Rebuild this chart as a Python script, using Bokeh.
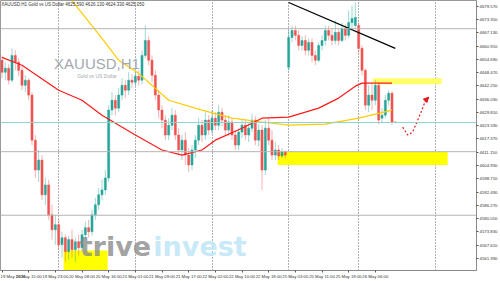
from bokeh.plotting import figure
from bokeh.models import (Range1d, FixedTicker, Label, Span, Arrow, NormalHead, ColumnDataSource)
from bokeh.embed import file_html
from bokeh.resources import INLINE

# ---------------- data ----------------
opens = [4654.2,4648.6,4650.5,4644.9,4656.5,4653.3,4649.5,4642.5,4644.9,4637.9,
         4616.8,4602.8,4607.5,4591.2,4595.8,4581.8,4574.8,4577.2,4567.8,4571.1,
         4564.6,4570.2,4565.5,4569.2,4566.4,4572.5,4575.8,4573.9,4581.8,4586.5,
         4591.2,4593.5,4599.1,4630.9,4635.5,4631.8,4637.9,4642.5,4640.2,4644.9,
         4643.9,4646.7,4644.9,4656.5,4663.5,4654.2,4647.2,4637.9,4630.9,4626.2,
         4619.2,4623.8,4628.5,4619.2,4612.2,4616.8,4609.8,4605.2,4612.2,4616.8,
         4623.8,4619.2,4626.2,4621.5,4627.1,4623.8,4629.9,4626.2,4621.5,4625.3,
         4619.2,4614.5,4620.6,4623.8,4619.2,4622.4,4626.2,4616.8,4621.5,4602.8,
         4622.4,4616.8,4609.8,4612.2,4609.4,4611.2,4650.9,4664.9,4668.2,4665.9,
         4661.2,4663.5,4658.9,4662.6,4656.5,4654.2,4661.2,4663.5,4668.2,4665.9,
         4663.5,4667.3,4663.5,4669.1,4665.9,4671.9,4670.5,4670.5,4659.8,4649.5,
         4633.2,4637.9,4635.5,4642.5,4627.1,4628.5,4635.5,4638.8,4625.3]
highs = [4656.5,4653.3,4652.3,4659.8,4658.9,4655.1,4651.4,4647.2,4645.8,4639.3,
         4619.2,4612.2,4609.8,4599.1,4598.2,4586.5,4581.8,4579.5,4573.9,4572.5,
         4572.0,4574.8,4571.1,4572.5,4574.8,4578.6,4579.5,4584.2,4589.8,4594.4,
         4598.2,4602.8,4633.2,4639.3,4637.9,4641.1,4645.8,4644.9,4648.6,4647.7,
         4649.5,4649.5,4658.9,4670.5,4665.4,4656.5,4649.5,4640.2,4633.2,4628.5,
         4627.1,4631.8,4630.9,4622.4,4619.2,4620.6,4613.1,4614.5,4619.2,4627.1,
         4626.2,4629.9,4628.5,4630.9,4629.9,4633.2,4631.8,4628.5,4628.5,4627.1,
         4621.5,4622.4,4626.2,4626.2,4625.3,4629.0,4628.0,4624.3,4623.8,4626.2,
         4627.1,4621.5,4615.9,4614.5,4613.1,4612.2,4668.2,4670.5,4670.5,4668.2,
         4665.4,4665.9,4664.5,4664.5,4658.9,4662.6,4665.9,4670.5,4670.5,4669.1,
         4672.9,4669.1,4671.9,4671.0,4677.5,4679.9,4681.3,4671.9,4661.2,4650.5,
         4642.5,4643.0,4644.9,4643.9,4631.8,4637.9,4640.2,4639.7,4625.7]
lows = [4645.8,4644.9,4643.0,4643.9,4649.5,4646.7,4640.2,4639.3,4635.5,4614.5,
        4599.1,4597.2,4588.8,4586.5,4579.5,4570.2,4567.8,4565.5,4561.8,4559.9,
        4560.8,4561.8,4559.9,4562.7,4564.6,4570.2,4571.1,4572.0,4579.5,4584.2,
        4588.8,4591.2,4597.2,4628.5,4628.5,4629.9,4635.5,4636.5,4637.9,4641.1,
        4642.1,4642.5,4643.0,4655.1,4651.9,4643.9,4635.5,4627.1,4622.4,4616.8,
        4616.8,4621.5,4616.8,4609.8,4607.5,4605.2,4601.9,4602.8,4608.4,4614.5,
        4615.9,4616.8,4619.2,4619.7,4621.5,4621.5,4623.4,4619.2,4618.7,4616.8,
        4612.2,4612.2,4617.8,4616.8,4615.9,4620.6,4614.5,4614.0,4593.5,4600.5,
        4614.5,4607.5,4607.5,4607.5,4608.4,4608.4,4649.5,4662.6,4663.5,4658.9,
        4658.9,4656.5,4656.5,4653.3,4651.9,4653.3,4658.9,4661.2,4663.5,4661.2,
        4661.7,4661.2,4662.6,4663.5,4664.5,4669.1,4669.1,4657.9,4647.2,4630.9,
        4629.9,4630.9,4633.2,4624.3,4625.3,4627.1,4633.2,4623.8,4624.8]
closes = [4648.6,4650.5,4644.9,4656.5,4653.3,4649.5,4642.5,4644.9,4637.9,4616.8,
          4602.8,4607.5,4591.2,4595.8,4581.8,4574.8,4577.2,4567.8,4571.1,4564.6,
          4570.2,4565.5,4569.2,4566.4,4572.5,4575.8,4573.9,4581.8,4586.5,4591.2,
          4593.5,4599.1,4630.9,4635.5,4631.8,4637.9,4642.5,4640.2,4644.9,4643.9,
          4646.7,4644.9,4656.5,4663.5,4654.2,4647.2,4637.9,4630.9,4626.2,4619.2,
          4623.8,4628.5,4619.2,4612.2,4616.8,4609.8,4605.2,4612.2,4616.8,4623.8,
          4619.2,4626.2,4621.5,4627.1,4623.8,4629.9,4626.2,4621.5,4625.3,4619.2,
          4614.5,4620.6,4623.8,4619.2,4622.4,4626.2,4616.8,4621.5,4602.8,4622.4,
          4616.8,4609.8,4612.2,4609.4,4611.2,4609.8,4664.9,4668.2,4665.9,4661.2,
          4663.5,4658.9,4662.6,4656.5,4654.2,4661.2,4663.5,4668.2,4665.9,4663.5,
          4667.3,4663.5,4669.1,4665.9,4671.9,4673.8,4674.3,4659.8,4649.5,4633.2,
          4637.9,4635.5,4642.5,4626.2,4628.5,4635.5,4638.8,4625.3,4625.0]
bars = list(range(len(opens)))

# moving averages, read at sampled bars
ma_fast_bars = [0, 6, 17, 24, 30, 40, 48, 54, 60, 64, 72, 78, 86, 95, 101, 106, 108, 117]
ma_fast_vals = [4655.6, 4651.9, 4640.2, 4635.5, 4628.5, 4619.2, 4612.2, 4609.8, 4612.2,
                4616.8, 4622.4, 4627.1, 4627.6, 4631.8, 4636.5, 4642.1, 4643.5, 4643.5]
ma_slow_bars = [21, 30, 35, 41, 50, 60, 69, 78, 86, 97, 107, 117]
ma_slow_vals = [4682.2, 4664.5, 4654.2, 4648.1, 4635.5, 4630.9, 4627.1, 4625.3,
                4623.8, 4624.3, 4627.1, 4630.9]

# drawn objects
trend_bars = [86, 118]
trend_vals = [4681.3, 4659.8]
hline_vals = [4669.02, 4611.40, 4581.62]
bid_price = 4625.05
zone_left = [18.5, 82.7, 111.2]
zone_right = [31.7, 133.7, 131.9]
zone_top = [4565.1, 4611.3, 4645.8]
zone_bottom = [4555.0, 4605.2, 4643.0]
zone_color = ["#ffff00", "#ffff00", "#ffff66"]
path_bars = [120.2, 121.7, 123.2, 125.6, 127.1, 128.0]
path_vals = [4622.9, 4619.2, 4620.6, 4629.5, 4635.5, 4636.9]

x_tick_bars = [0, 8, 16, 24, 32, 40, 48, 56, 64, 72, 80, 88, 96, 104, 112]
x_tick_labels = ["19 May 2026", "19 May 15:00", "19 May 23:00", "20 May 08:00",
                 "20 May 16:00", "21 May 01:00", "21 May 09:00", "21 May 17:00",
                 "22 May 02:00", "22 May 10:00", "22 May 18:00", "25 May 03:00",
                 "25 May 11:00", "25 May 19:00", "26 May 06:00"]
day_start_bars = [17, 40, 63, 86, 107, 130]
y_tick_vals = [4679.57 - 6.22 * k for k in range(20)]
y_tick_labels = ["%.3f" % v for v in y_tick_vals]

# ---------------- figure ----------------
p = figure(width=500, height=281, output_backend="svg", toolbar_location=None,
           x_range=Range1d(-0.45, 142.35), y_range=Range1d(4555.73, 4682.23),
           y_axis_location="right", min_border=0,
           min_border_left=0, min_border_right=0, min_border_top=0, min_border_bottom=0)
p.background_fill_color = "white"
p.border_fill_color = "white"
p.outline_line_color = "#9a9a9a"

# axes
p.yaxis.ticker = FixedTicker(ticks=y_tick_vals)
p.yaxis.major_label_overrides = {v: s for v, s in zip(y_tick_vals, y_tick_labels)}
p.xaxis.ticker = FixedTicker(ticks=x_tick_bars)
p.xaxis.major_label_overrides = {b: s for b, s in zip(x_tick_bars, x_tick_labels)}
for ax in (p.xaxis[0], p.yaxis[0]):
    ax.major_label_text_font = "Liberation Sans"
    ax.major_label_text_font_size = "4.3px"
    ax.major_label_text_color = "#333333"
    ax.axis_line_color = "#8a8a8a"
    ax.major_tick_line_color = "#555555"
    ax.major_tick_out = 2
    ax.major_tick_in = 0
    ax.minor_tick_out = 0
    ax.minor_tick_in = 0
    ax.major_label_standoff = 1
p.xaxis.major_label_text_align = "left"

p.ygrid.visible = False
p.xgrid.ticker = FixedTicker(ticks=day_start_bars)
p.xgrid.grid_line_color = "#606060"
p.xgrid.grid_line_dash = "1 2"
p.xgrid.grid_line_width = 1

# zones (background)
p.quad(left=zone_left, right=zone_right, top=zone_top, bottom=zone_bottom,
       fill_color=zone_color, line_color=None)

# horizontal lines
for v in hline_vals:
    p.add_layout(Span(location=v, dimension="width", line_color="#b4b4b4", line_width=1))
p.add_layout(Span(location=bid_price, dimension="width", line_color="#8fd3cc", line_width=1))

# watermark texts
p.add_layout(Label(x=28.5, y=4652.5, text="XAUUSD,H1", text_align="center",
                   text_baseline="middle", text_font="Liberation Sans",
                   text_font_size="15px", text_color="#a3a9b0"))
p.add_layout(Label(x=28.5, y=4647.0, text="Gold vs US Dollar", text_align="center",
                   text_baseline="middle", text_font="Liberation Sans",
                   text_font_size="5px", text_color="#a3a9b0"))
p.add_layout(Label(x=23.3, y=4566.9, text="trive", text_align="left",
                   text_baseline="alphabetic", text_font="DejaVu Sans", text_font_style="bold",
                   text_font_size="27px", text_color="#8a8a8a", text_alpha=0.8))
p.add_layout(Label(x=45.4, y=4566.9, text="invest", text_align="left",
                   text_baseline="alphabetic", text_font="DejaVu Sans", text_font_style="bold",
                   text_font_size="27px", text_color="#bfe6f7", text_alpha=0.9))

# candles
bull = "#26a69a"
bear = "#ef5350"
colors = [bull if c >= o else bear for o, c in zip(opens, closes)]
src = ColumnDataSource(dict(x=bars, o=opens, h=highs, l=lows, c=closes,
                            top=[max(o, c) for o, c in zip(opens, closes)],
                            bot=[min(o, c) for o, c in zip(opens, closes)],
                            color=colors))
p.segment(x0="x", y0="l", x1="x", y1="h", color="color", line_alpha=0.45, line_width=1, source=src)
p.vbar(x="x", width=0.62, top="top", bottom="bot", fill_color="color", line_color="color",
       line_width=0.5, source=src)

# moving averages
p.line(ma_slow_bars, ma_slow_vals, line_color="#ffcc00", line_width=1.2)
p.line(ma_fast_bars, ma_fast_vals, line_color="#ff1a1a", line_width=1.2)

# trend line
p.line(trend_bars, trend_vals, line_color="black", line_width=1.2)

# projected path
p.line(path_bars, path_vals, line_color="#e31b1b", line_width=1.2, line_dash="2 2")
p.add_layout(Arrow(end=NormalHead(size=5, fill_color="#e31b1b", line_color="#e31b1b"),
                   x_start=path_bars[-2], y_start=path_vals[-2],
                   x_end=path_bars[-1], y_end=path_vals[-1], line_alpha=0))

# title
p.add_layout(Label(x=-0.2, y=4680.2, text="XAUUSD,H1  Gold vs US Dollar  4625.590 4626.130 4624.330 4625.050",
                   text_baseline="middle", text_font="Liberation Sans",
                   text_font_size="4.5px", text_color="#333333"))

open("out.html", "w").write(file_html(p, INLINE))
